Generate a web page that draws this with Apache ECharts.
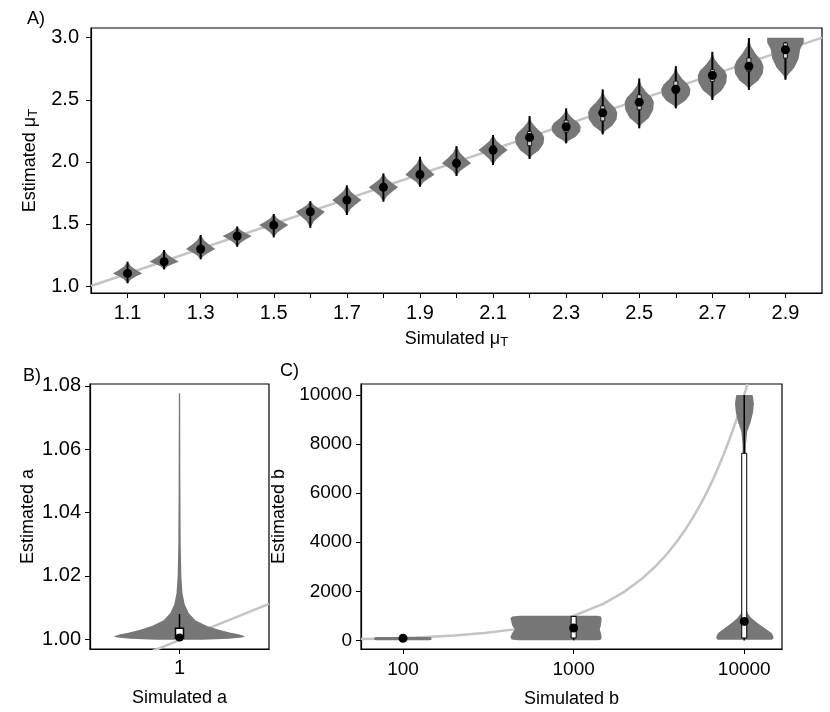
<!DOCTYPE html>
<html>
<head>
<meta charset="utf-8">
<script src="https://cdn.jsdelivr.net/npm/echarts@6/dist/echarts.min.js"></script>
<style>
html,body{margin:0;padding:0;background:#fff;}
#chart{width:830px;height:712px;}
</style>
</head>
<body>
<div id="chart"></div>
<script>
// ---- panel A : mu_T ----
var muSim = [1.1,1.2,1.3,1.4,1.5,1.6,1.7,1.8,1.9,2.0,2.1,2.2,2.3,2.4,2.5,2.6,2.7,2.8,2.9];
var muMean = [1.102,1.196,1.298,1.403,1.491,1.598,1.692,1.795,1.896,1.988,2.095,2.197,2.283,2.395,2.481,2.584,2.696,2.769,2.903];
var muLo = [1.022,1.134,1.215,1.316,1.392,1.469,1.572,1.679,1.800,1.886,1.974,2.023,2.149,2.221,2.270,2.431,2.498,2.580,2.661];
var muHi = [1.196,1.290,1.411,1.480,1.580,1.684,1.811,1.907,2.041,2.127,2.216,2.369,2.431,2.584,2.672,2.771,2.886,2.997,2.965];
var muQ1 = [1.085,1.180,1.280,1.385,1.470,1.575,1.665,1.770,1.870,1.960,2.065,2.130,2.240,2.330,2.420,2.550,2.648,2.729,2.836];
var muQ3 = [1.120,1.215,1.320,1.420,1.510,1.620,1.720,1.825,1.930,2.020,2.130,2.245,2.335,2.450,2.540,2.650,2.742,2.836,2.957];
// violin outlines: [estimate, relative half width]
var muViolins = [
  [[1.022,0],[1.054,.25],[1.078,.6],[1.102,1],[1.130,.6],[1.158,.25],[1.196,0]],
  [[1.134,0],[1.159,.25],[1.177,.6],[1.196,1],[1.224,.6],[1.252,.25],[1.290,0]],
  [[1.215,0],[1.248,.25],[1.273,.6],[1.298,1],[1.332,.6],[1.366,.25],[1.411,0]],
  [[1.316,0],[1.351,.25],[1.377,.6],[1.403,1],[1.426,.6],[1.449,.25],[1.480,0]],
  [[1.392,0],[1.432,.25],[1.461,.6],[1.491,1],[1.518,.6],[1.544,.25],[1.580,0]],
  [[1.469,0],[1.521,.25],[1.558,.6],[1.598,1],[1.624,.6],[1.650,.25],[1.684,0]],
  [[1.572,0],[1.620,.25],[1.656,.6],[1.692,1],[1.728,.6],[1.763,.25],[1.811,0]],
  [[1.679,0],[1.725,.25],[1.760,.6],[1.795,1],[1.829,.6],[1.862,.25],[1.907,0]],
  [[1.800,0],[1.838,.25],[1.867,.6],[1.896,1],[1.940,.6],[1.983,.25],[2.041,0]],
  [[1.886,0],[1.927,.25],[1.957,.6],[1.988,1],[2.030,.6],[2.071,.25],[2.127,0]],
  [[1.974,0],[2.022,.25],[2.059,.6],[2.095,1],[2.131,.6],[2.168,.25],[2.216,0]],
  [[2.023,0],[2.049,.15],[2.093,.65],[2.145,.95],[2.197,1],[2.231,.85],[2.274,.45],[2.317,.15],[2.369,0]],
  [[2.149,0],[2.169,.15],[2.203,.65],[2.243,.95],[2.283,1],[2.313,.85],[2.350,.45],[2.387,.15],[2.431,0]],
  [[2.221,0],[2.247,.15],[2.291,.65],[2.343,.95],[2.395,1],[2.433,.85],[2.480,.45],[2.527,.15],[2.584,0]],
  [[2.270,0],[2.302,.15],[2.354,.65],[2.418,.95],[2.481,1],[2.519,.85],[2.567,.45],[2.615,.15],[2.672,0]],
  [[2.431,0],[2.454,.15],[2.492,.65],[2.538,.95],[2.584,1],[2.621,.85],[2.668,.45],[2.715,.15],[2.771,0]],
  [[2.498,0],[2.528,.15],[2.577,.65],[2.637,.95],[2.696,1],[2.734,.85],[2.782,.45],[2.829,.15],[2.886,0]],
  [[2.580,0],[2.609,.15],[2.656,.65],[2.712,.95],[2.769,1],[2.815,.85],[2.872,.45],[2.929,.15],[2.997,0]],
  [[2.661,0],[2.697,.15],[2.758,.6],[2.830,.9],[2.903,1],[2.930,1.1],[2.960,1.25],[3.000,1.25]]
];
var muXTicks = [1.1,1.2,1.3,1.4,1.5,1.6,1.7,1.8,1.9,2.0,2.1,2.2,2.3,2.4,2.5,2.6,2.7,2.8,2.9];
var muXLabels = [1.1,1.3,1.5,1.7,1.9,2.1,2.3,2.5,2.7,2.9];
var muYTicks = [1.0,1.5,2.0,2.5,3.0];
var muRef = [[1.0,1.0],[3.0,3.0]];

// ---- panel B : a ----
var aSim = [1];
var aMean = [1.0006];
var aLo = [1.0000];
var aHi = [1.0080];
var aQ1 = [1.0003];
var aQ3 = [1.0035];
var aViolins = [
  [[0.99985,.35],[1.0002,.75],[1.0006,.95],[1.0010,1],[1.0016,.9],[1.0021,.78],[1.0030,.6],[1.0042,.42],
   [1.0060,.24],[1.0083,.14],[1.0110,.08],[1.0146,.045],[1.0200,.028],[1.0300,.018],[1.0500,.013],[1.0777,.01]]
];
var aYTicks = [1.00,1.02,1.04,1.06,1.08];
var aRef = [[0.4,0.9883],[1.6,1.0112]];

// ---- panel C : b ----
var bSim = [100,1000,10000];
var bMean = [90,505,773];
var bLo = [60,5,0];
var bHi = [120,1000,10000];
var bQ1 = [70,100,98];
var bQ3 = [110,977,7625];
var bLeft = [67.8,426,6852];
var bRight = [146.6,1460,14860];
var bViolins = [
  [[5,.9],[20,1],[120,1],[140,.9]],
  [[5,.88],[40,.98],[150,1],[350,.96],[450,.93],[600,.97],[900,1],[970,.97],[1000,.85]],
  [[30,.95],[100,1],[200,.98],[300,.93],[450,.75],[600,.58],[710,.45],[900,.25],[1100,.12],[1300,.07],
   [1800,.05],[3000,.045],[5000,.045],[7000,.05],[8000,.06],[8500,.1],[8900,.22],[9300,.3],[9650,.33],[9900,.3],[10000,.28]]
];
var bYTicks = [0,2000,4000,6000,8000,10000];
var bRefX = [56.7,80,120,200,300,450,700,1000,1500,2000,2500,3000,3500,4000,4500,5000,5500,6000,6500,7000,7500,8000,8500,9000,9500,10000,10448];

var FONT = 'Liberation Sans';
var VIOLIN = '#777777';
var REF = '#c4c4c4';

function violinRender(xs, shapes, lo, hi, q1, q3, opt) {
  return function (params, api) {
    var i = params.dataIndex;
    var x = xs[i];
    var xl = opt.left ? opt.left[i] : x - opt.half;
    var xr = opt.right ? opt.right[i] : x + opt.half;
    var right = [], left = [];
    shapes[i].forEach(function (p) {
      var c = api.coord([x, p[0]]);
      var r = api.coord([xr, p[0]])[0];
      var l = api.coord([xl, p[0]])[0];
      right.push([c[0] + p[1] * (r - c[0]), c[1]]);
      left.unshift([c[0] - p[1] * (c[0] - l), c[1]]);
    });
    var top = api.coord([x, hi[i]]), bot = api.coord([x, lo[i]]);
    var b1 = api.coord([x, q3[i]]), b2 = api.coord([x, q1[i]]);
    return {
      type: 'group',
      children: [
        {type: 'polygon', shape: {points: right.concat(left)}, style: {fill: VIOLIN}},
        {type: 'line', shape: {x1: top[0], y1: top[1], x2: bot[0], y2: bot[1]},
         style: {stroke: '#000', lineWidth: opt.whisker}},
        {type: 'rect', shape: {x: b1[0] - opt.box / 2, y: b1[1], width: opt.box, height: Math.max(b2[1] - b1[1], 1)},
         style: {fill: opt.boxFill, stroke: '#000', lineWidth: opt.boxLine}}
      ]
    };
  };
}

function axis(idx, extra) {
  var base = {
    gridIndex: idx,
    type: 'value',
    axisLine: {show: true, onZero: false, lineStyle: {color: '#000', width: 1.2}},
    axisTick: {show: true, length: 5, lineStyle: {color: '#000', width: 1}},
    axisLabel: {fontSize: 20, color: '#000', fontFamily: FONT},
    splitLine: {show: false},
    nameLocation: 'middle',
    nameTextStyle: {fontSize: 18, color: '#000', fontFamily: FONT}
  };
  for (var k in extra) {
    if (typeof extra[k] === 'object' && base[k] && !Array.isArray(extra[k])) {
      base[k] = Object.assign({}, base[k], extra[k]);
    } else {
      base[k] = extra[k];
    }
  }
  return base;
}

var subRich = {
  n: {fontSize: 18, fontFamily: FONT, color: '#000'},
  s: {fontSize: 13, fontFamily: FONT, color: '#000', padding: [7, 0, 0, 0]}
};

function dots(idx, xs, ys, size) {
  return {
    type: 'scatter', xAxisIndex: idx, yAxisIndex: idx, z: 5, symbol: 'circle', symbolSize: size,
    itemStyle: {color: '#000', borderWidth: 0, opacity: 1},
    data: xs.map(function (x, i) { return [x, ys[i]]; })
  };
}

var panelText = {fontSize: 18, fontWeight: 'normal', color: '#000', fontFamily: FONT};

var chart = echarts.init(document.getElementById('chart'), null, {renderer: 'canvas'});
chart.setOption({
  animation: false,
  textStyle: {fontFamily: FONT},
  title: [
    {text: 'A)', left: 22, top: 5, textStyle: panelText},
    {text: 'B)', left: 18, top: 362, textStyle: panelText},
    {text: 'C)', left: 275, top: 357, textStyle: panelText}
  ],
  grid: [
    {left: 91, top: 28, width: 731, height: 265, show: true, borderColor: '#000', borderWidth: 1.2},
    {left: 90, top: 384, width: 179, height: 265, show: true, borderColor: '#000', borderWidth: 1.2},
    {left: 361, top: 384, width: 421, height: 265, show: true, borderColor: '#000', borderWidth: 1.2}
  ],
  xAxis: [
    axis(0, {min: 1.0, max: 3.0,
      axisTick: {customValues: muXTicks},
      axisLabel: {customValues: muXLabels, margin: 10, formatter: function (v) { return v.toFixed(1); }},
      name: '{n|Simulated μ}{s|T}', nameGap: 36, nameTextStyle: {rich: subRich}}),
    axis(1, {min: 0.4, max: 1.6,
      axisTick: {customValues: aSim},
      axisLabel: {customValues: aSim, margin: 9, formatter: function (v) { return String(v); }},
      name: 'Simulated a', nameGap: 40}),
    axis(2, {type: 'log', logBase: 10, min: 56.7, max: 16650,
      axisTick: {customValues: bSim},
      axisLabel: {customValues: bSim, margin: 11, fontSize: 19, formatter: function (v) { return String(v); }},
      minorTick: {show: false},
      name: 'Simulated b', nameGap: 41})
  ],
  yAxis: [
    axis(0, {min: 0.944, max: 3.078,
      axisTick: {customValues: muYTicks},
      axisLabel: {customValues: muYTicks, margin: 12, formatter: function (v) { return v.toFixed(1); }},
      name: '{n|Estimated μ}{s|T}', nameGap: 45, nameTextStyle: {rich: subRich}}),
    axis(1, {min: 0.99694, max: 1.0806,
      axisTick: {customValues: aYTicks},
      axisLabel: {customValues: aYTicks, margin: 9, formatter: function (v) { return v.toFixed(2); }},
      name: 'Estimated a', nameGap: 53}),
    axis(2, {min: -350, max: 10448,
      axisTick: {customValues: bYTicks},
      axisLabel: {customValues: bYTicks, margin: 9, fontSize: 19, formatter: function (v) { return String(v); }},
      name: 'Estimated b', nameGap: 62})
  ],
  series: [
    {type: 'line', xAxisIndex: 0, yAxisIndex: 0, data: muRef, symbol: 'none',
     lineStyle: {color: REF, width: 2.5}, z: 1},
    {type: 'line', xAxisIndex: 1, yAxisIndex: 1, data: aRef, symbol: 'none',
     lineStyle: {color: REF, width: 2.5}, z: 1},
    {type: 'line', xAxisIndex: 2, yAxisIndex: 2, data: bRefX.map(function (v) { return [v, v]; }), symbol: 'none',
     lineStyle: {color: REF, width: 2.5}, z: 1},
    {type: 'custom', xAxisIndex: 0, yAxisIndex: 0, z: 2,
     data: muSim.map(function (x, i) { return [x, muMean[i]]; }),
     renderItem: violinRender(muSim, muViolins, muLo, muHi, muQ1, muQ3,
       {half: 0.040, whisker: 2, box: 4, boxFill: '#d0d0d0', boxLine: 0.8})},
    {type: 'custom', xAxisIndex: 1, yAxisIndex: 1, z: 2,
     data: aSim.map(function (x, i) { return [x, aMean[i]]; }),
     renderItem: violinRender(aSim, aViolins, aLo, aHi, aQ1, aQ3,
       {half: 0.44, whisker: 1.5, box: 8, boxFill: '#fff', boxLine: 1.5})},
    {type: 'custom', xAxisIndex: 2, yAxisIndex: 2, z: 2,
     data: bSim.map(function (x, i) { return [x, bMean[i]]; }),
     renderItem: violinRender(bSim, bViolins, bLo, bHi, bQ1, bQ3,
       {left: bLeft, right: bRight, whisker: 1.5, box: 5, boxFill: '#fff', boxLine: 1})},
    dots(0, muSim, muMean, 9),
    dots(1, aSim, aMean, 8),
    dots(2, bSim, bMean, 9)
  ]
});
</script>
</body>
</html>
